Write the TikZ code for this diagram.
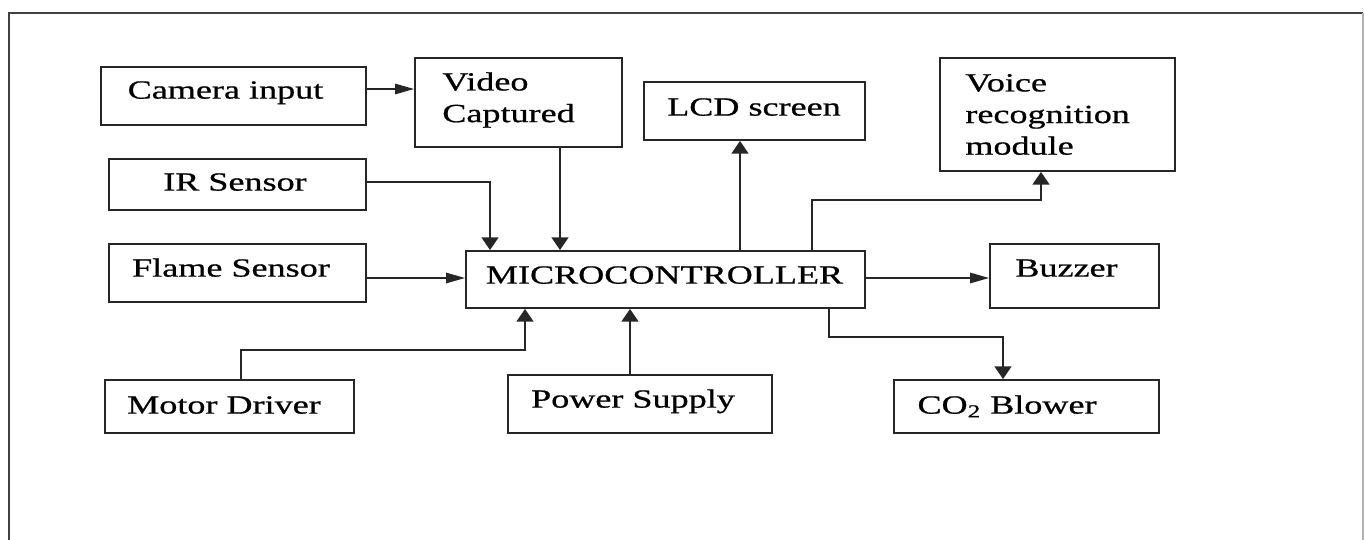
\documentclass[tikz,border=0pt]{standalone}
\usepackage{fontspec}
\setmainfont{Liberation Serif}[FakeStretch=1.38, FakeBold=0.7]
\usepackage{tikz}
\usetikzlibrary{arrows.meta, calc}

\begin{document}
\begin{tikzpicture}[
                x=0.02cm, y=-0.02cm,
                block/.style={draw=black!85, line width=1.1pt, rectangle, inner sep=0pt},
                blocklabel/.style={inner sep=0pt, font=\fontsize{14.9}{18}\selectfont, anchor=base},
                multilabel/.style={blocklabel, align=left, anchor=west},
                harr/.style={draw=black!85, line width=1pt, -{Triangle[length=10.8pt, width=5.9pt]}},
                varr/.style={draw=black!85, line width=1pt, -{Triangle[length=7.2pt, width=9.6pt]}},
                frameline/.style={draw=black!75, line width=1.2pt}
            ]
            \useasboundingbox (0,0) rectangle (1364,540);

            % Rahmen
            \draw[frameline] (9,540) -- (9,13) -- (1363,13);
            \draw[draw=black!30, line width=1pt] (1363,13) -- (1363,540);

            % Bloecke
            \node[block, minimum width=5.30cm, minimum height=1.16cm] (cam) at (233.5,96) {};
            \node[block, minimum width=4.14cm, minimum height=1.78cm] (vid) at (518.5,102.5) {};
            \node[block, minimum width=4.42cm, minimum height=1.16cm] (lcd) at (754.5,111) {};
            \node[block, minimum width=4.70cm, minimum height=2.26cm] (voice) at (1057.5,114.5) {};
            \node[block, minimum width=5.14cm, minimum height=1.02cm] (ir) at (237.5,184.5) {};
            \node[block, minimum width=5.14cm, minimum height=1.16cm] (flame) at (237.5,273) {};
            \node[block, minimum width=7.98cm, minimum height=1.14cm] (mc) at (665.5,279.5) {};
            \node[block, minimum width=3.38cm, minimum height=1.28cm] (buz) at (1074.5,276) {};
            \node[block, minimum width=4.98cm, minimum height=1.06cm] (motor) at (229.5,406.5) {};
            \node[block, minimum width=5.28cm, minimum height=1.16cm] (pwr) at (640,404) {};
            \node[block, minimum width=5.30cm, minimum height=1.06cm] (co2) at (1026.5,406.5) {};

            % Texte
            \node[blocklabel] (cam-t) at (225.5,98.6) {Camera input};
            \node[multilabel] (vid-t) at (442,100) {Video\\Captured};
            \node[blocklabel] (lcd-t) at (754,115.6) {LCD screen};
            \node[multilabel] (voice-t) at (965,114.5) {Voice\\recognition\\module};
            \node[blocklabel] (ir-t) at (235,190.6) {IR Sensor};
            \node[blocklabel] (flame-t) at (231,276.6) {Flame Sensor};
            \node[blocklabel] (mc-t) at (664.5,283.6) {MICROCONTROLLER};
            \node[blocklabel] (buz-t) at (1066.5,276.6) {Buzzer};
            \node[blocklabel] (motor-t) at (224,413.6) {Motor Driver};
            \node[blocklabel] (pwr-t) at (633,407.6) {Power Supply};
            \node[blocklabel] (co2-t) at (1007,413.6) {CO\textsubscript{2} Blower};

            % Verbindungen
            \draw[harr] ($(cam.east)+(0,-7)$) coordinate (c) -- (c -| vid.west);
            \draw[varr] ($(vid.south)+(41.5,0)$) coordinate (v) -- (v |- mc.north);
            \draw[varr] ($(ir.east)+(0,-2.5)$) -| ($(mc.north)+(-175.5,0)$);
            \draw[harr] ($(flame.east)+(0,5)$) coordinate (f) -- (f -| mc.west);
            \draw[varr] ($(mc.north)+(74.5,0)$) coordinate (l) -- (l |- lcd.south);
            \draw[varr] ($(mc.north)+(146.5,0)$) |- ($(voice.south)+(-16.5,28)$) -- ($(voice.south)+(-16.5,0)$);
            \draw[harr] ($(mc.east)+(0,-1.5)$) coordinate (b) -- (b -| buz.west);
            \draw[varr] ($(mc.south)+(163.5,0)$) |- ($(co2.north)+(-23.5,-42)$) -- ($(co2.north)+(-23.5,0)$);
            \draw[varr] ($(motor.north)+(11.5,0)$) |- ($(mc.south)+(-140.5,41)$) -- ($(mc.south)+(-140.5,0)$);
            \draw[varr] ($(pwr.north)+(-10,0)$) coordinate (p) -- (p |- mc.south);

        \end{tikzpicture}
\end{document}
